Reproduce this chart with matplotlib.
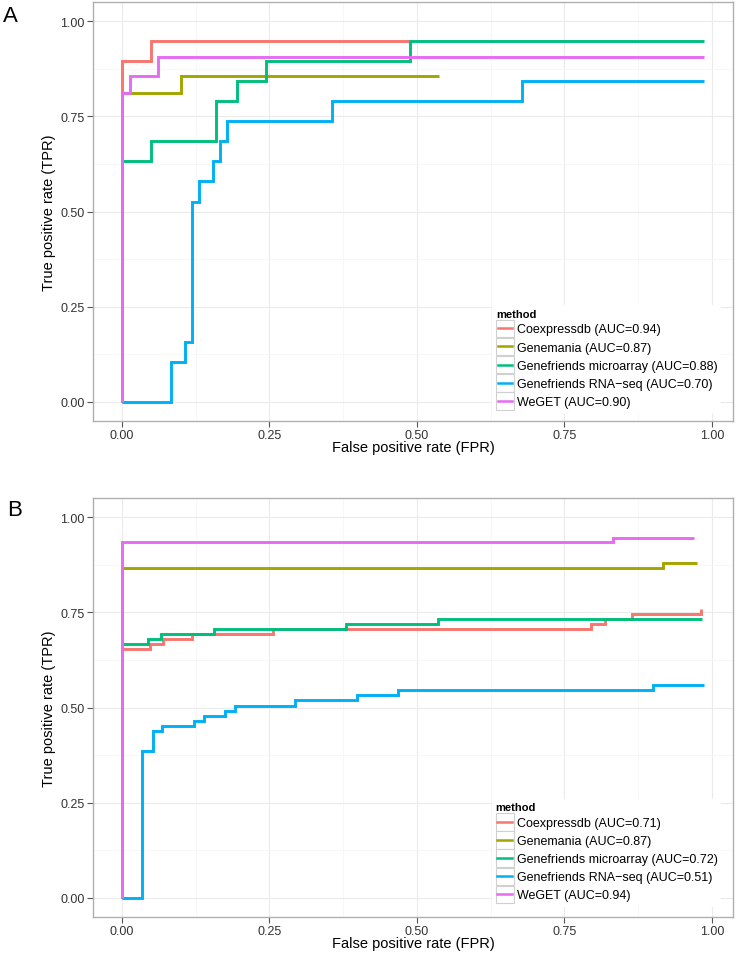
import matplotlib
matplotlib.use("Agg")
import matplotlib.pyplot as plt
from matplotlib.legend_handler import HandlerBase
from matplotlib.lines import Line2D
from matplotlib.patches import Rectangle

plt.rcParams['font.family'] = ['Liberation Sans', 'DejaVu Sans']

methods = ["Coexpressdb", "Genemania", "Genefriends microarray",
           "Genefriends RNA\u2212seq", "WeGET"]
colors = ["#F8766D", "#A3A500", "#00BF7D", "#00B0F6", "#E76BF3"]

# panel A
auc_a = [0.94, 0.87, 0.88, 0.70, 0.90]
fpr_a = [
    [0, 0, 0.049, 0.486],
    [0, 0, 0.100, 0.538],
    [0, 0, 0.049, 0.159, 0.195, 0.245, 0.488, 0.987],
    [0, 0.083, 0.107, 0.119, 0.131, 0.155, 0.167, 0.178, 0.357, 0.679, 0.987],
    [0, 0, 0.013, 0.062, 0.987],
]
tpr_a = [
    [0, 0.894, 0.947, 0.947],
    [0, 0.810, 0.857, 0.857],
    [0, 0.632, 0.684, 0.789, 0.842, 0.895, 0.947, 0.947],
    [0, 0.105, 0.158, 0.526, 0.579, 0.632, 0.684, 0.737, 0.789, 0.842, 0.842],
    [0, 0.810, 0.857, 0.905, 0.905],
]

# panel B
auc_b = [0.71, 0.87, 0.72, 0.51, 0.94]
fpr_b = [
    [0, 0, 0.047, 0.069, 0.118, 0.257, 0.795, 0.819, 0.864, 0.982],
    [0, 0, 0.917, 0.975],
    [0, 0, 0.045, 0.067, 0.156, 0.380, 0.536, 0.983],
    [0, 0.034, 0.052, 0.068, 0.122, 0.139, 0.174, 0.191, 0.294, 0.399, 0.468, 0.901, 0.987],
    [0, 0, 0.832, 0.970],
]
tpr_b = [
    [0, 0.653, 0.667, 0.680, 0.693, 0.706, 0.720, 0.733, 0.746, 0.759],
    [0, 0.867, 0.880, 0.880],
    [0, 0.667, 0.680, 0.693, 0.707, 0.720, 0.733, 0.733],
    [0, 0.386, 0.438, 0.452, 0.465, 0.478, 0.492, 0.505, 0.519, 0.532, 0.546, 0.559, 0.559],
    [0, 0.934, 0.946, 0.946],
]

ticks = [0.0, 0.25, 0.5, 0.75, 1.0]
tick_labels = ["0.00", "0.25", "0.50", "0.75", "1.00"]
minor = [0.125, 0.375, 0.625, 0.875]


class KeyHandler(HandlerBase):
    # ggplot-like legend key: grey-bordered square with a short line
    def create_artists(self, legend, orig_handle, xdescent, ydescent,
                       width, height, fontsize, trans):
        box = Rectangle((-xdescent, -ydescent), width, height, facecolor="white",
                        edgecolor="#d0d0d0", lw=0.8, transform=trans)
        y = height / 2 - ydescent
        line = Line2D([-xdescent + width * 0.1, -xdescent + width * 0.9], [y, y],
                      color=orig_handle.get_color(), lw=1.8, transform=trans)
        return [box, line]


def draw_panel(ax, fprs, tprs, aucs, legend_y):
    for x, y, c in zip(fprs, tprs, colors):
        ax.step(x, y, where="post", color=c, lw=2.1, solid_capstyle="butt",
                solid_joinstyle="miter", zorder=3)
    ax.set_xlim(-0.049, 1.036)
    ax.set_ylim(-0.05, 1.05)
    ax.set_xticks(ticks)
    ax.set_xticklabels(tick_labels)
    ax.set_yticks(ticks)
    ax.set_yticklabels(tick_labels)
    ax.set_xticks(minor, minor=True)
    ax.set_yticks(minor, minor=True)
    ax.grid(which="major", color="#ebebeb", lw=0.8, zorder=0)
    ax.grid(which="minor", color="#f6f6f6", lw=0.6, zorder=0)
    ax.tick_params(which="minor", length=0)
    ax.tick_params(which="major", length=4, width=0.8, color="#555555",
                   labelsize=9, labelcolor="#333333", pad=2)
    for s in ax.spines.values():
        s.set_color("#b0b0b0")
        s.set_linewidth(1.0)
    ax.set_axisbelow(True)
    ax.set_xlabel("False positive rate (FPR)", fontsize=10.5, labelpad=-1)
    ax.set_ylabel("True positive rate (TPR)", fontsize=10.5, labelpad=3)

    handles = [Line2D([], [], color=c) for c in colors]
    labels = [f"{m} (AUC={a:.2f})" for m, a in zip(methods, aucs)]
    leg = ax.legend(handles, labels, title="method", loc="lower right",
                    bbox_to_anchor=(0.982, legend_y), borderaxespad=0,
                    handler_map={Line2D: KeyHandler()}, fontsize=9,
                    handlelength=1.45, handleheight=1.78, handletextpad=0.25,
                    labelspacing=0.05, borderpad=0.3, frameon=True,
                    fancybox=False, alignment="left",
                    title_fontproperties={"weight": "bold", "size": 8})
    leg.get_frame().set_edgecolor("none")
    leg.get_frame().set_facecolor("white")
    leg.get_frame().set_alpha(1.0)
    leg.set_zorder(5)


fig = plt.figure(figsize=(7.36, 9.54), dpi=100)
ax_a = fig.add_axes([93 / 736, 1 - 422 / 954, 640 / 736, 419 / 954])
ax_b = fig.add_axes([93 / 736, 1 - 918 / 954, 640 / 736, 419 / 954])

draw_panel(ax_a, fpr_a, tpr_a, auc_a, 0.018)
draw_panel(ax_b, fpr_b, tpr_b, auc_b, 0.024)

fig.text(3 / 736, 1 - 6 / 954, "A", fontsize=16, ha="left", va="top")
fig.text(7 / 736, 1 - 500 / 954, "B", fontsize=16, ha="left", va="top")

fig.savefig("out.png", dpi=100)
